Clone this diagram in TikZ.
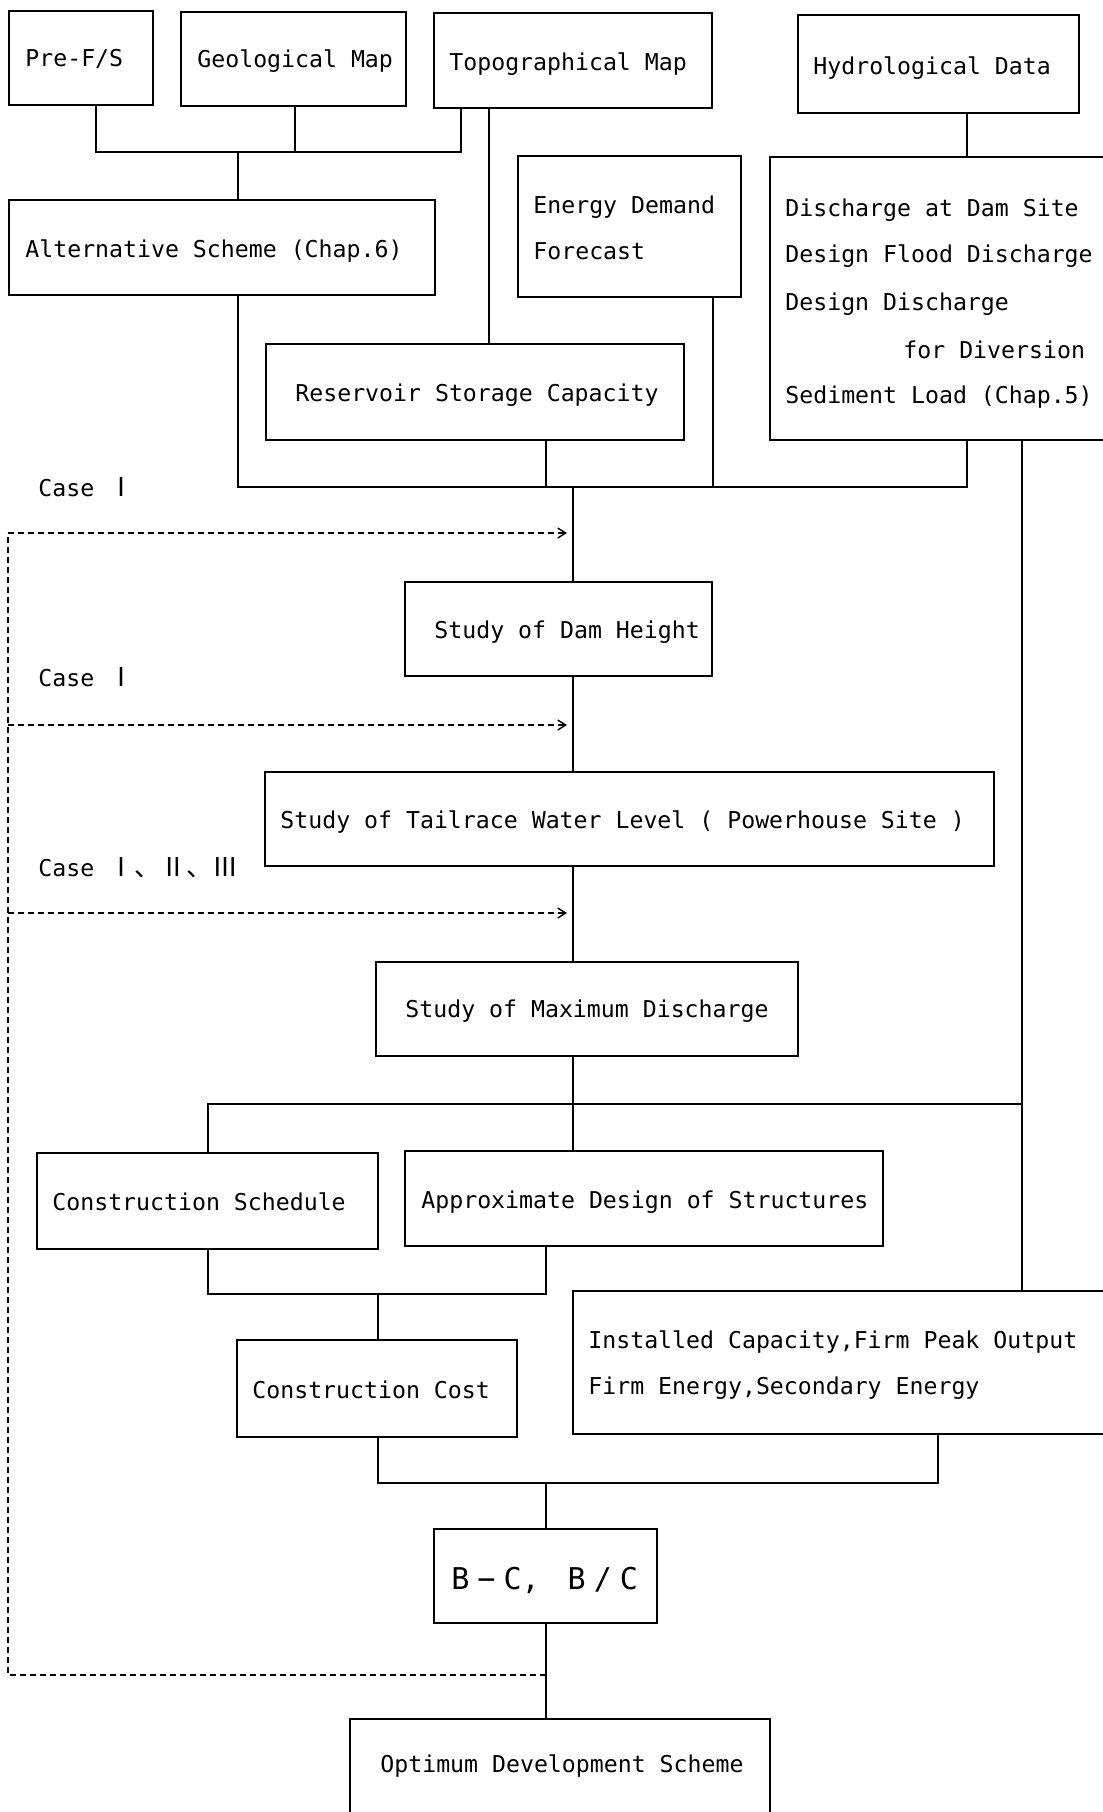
\documentclass[tikz,border=0pt]{standalone}
\usepackage{fontspec}
\setmonofont{DejaVu Sans Mono}
\newfontfamily\cjk{Noto Sans CJK JP}
\usetikzlibrary{arrows.meta,fit}
\begin{document}
\begin{tikzpicture}[x=0.5pt,y=-0.5pt,
  box/.style={draw, line width=0.9pt, inner sep=0pt, rectangle},
  txt/.style={anchor=base west, inner sep=0pt, font=\ttfamily\fontsize{11.6}{14}\selectfont},
  bctxt/.style={anchor=base west, inner sep=0pt, font=\ttfamily\fontsize{15}{18}\selectfont},
  ln/.style={line width=0.9pt},
  fb/.style={line width=0.7pt, dash pattern=on 3pt off 2pt},
  fbarrow/.style={fb, -{Straight Barb[length=4pt,width=5pt]}}]
\useasboundingbox (0,0) rectangle (1103,1812);
\clip (0,0) rectangle (1103,1812);
\fill[white] (0,0) rectangle (1103,1812);

% boxes
\node[box, fit={(9,11) (153,105)}] (pre) {};
\node[box, fit={(181,12) (406,106)}] (geo) {};
\node[box, fit={(434,13) (712,108)}] (topo) {};
\node[box, fit={(798,15) (1079,113)}] (hyd) {};
\node[box, fit={(9,200) (435,295)}] (alt) {};
\node[box, fit={(518,156) (741,297)}] (en) {};
\node[box, fit={(770,157) (1130,440)}] (dis) {};
\node[box, fit={(266,344) (684,440)}] (res) {};
\node[box, fit={(405,582) (712,676)}] (dam) {};
\node[box, fit={(265,772) (994,866)}] (tail) {};
\node[box, fit={(376,962) (798,1056)}] (max) {};
\node[box, fit={(37,1153) (378,1249)}] (sch) {};
\node[box, fit={(405,1151) (883,1246)}] (apx) {};
\node[box, fit={(237,1340) (517,1437)}] (cost) {};
\node[box, fit={(573,1291) (1130,1434)}] (ins) {};
\node[box, fit={(434,1529) (657,1623)}] (bc) {};
\node[box, fit={(350,1719) (770,1850)}] (opt) {};

% texts
\node[txt] (tpre) at (25,66) {Pre-F/S};
\node[txt] (tgeo) at (197,67) {Geological Map};
\node[txt] (ttopo) at (449,70) {Topographical Map};
\node[txt] (thyd) at (813,74) {Hydrological Data};
\node[txt] (talt) at (25,257) {Alternative Scheme (Chap.6)};
\node[txt] (ten1) at (533,213) {Energy Demand};
\node[txt] (ten2) at (533,259) {Forecast};
\node[txt] (tdis1) at (785,216) {Discharge at Dam Site};
\node[txt] (tdis2) at (785,262) {Design Flood Discharge};
\node[txt] (tdis3) at (785,310) {Design Discharge};
\node[txt] (tdis4) at (903,358) {for Diversion};
\node[txt] (tdis5) at (785,403) {Sediment Load (Chap.5)};
\node[txt] (tres) at (295,401) {Reservoir Storage Capacity};
\node[txt] (tdam) at (434,638) {Study of Dam Height};
\node[txt] (ttail) at (280,828) {Study of Tailrace Water Level ( Powerhouse Site )};
\node[txt] (tmax) at (405,1017) {Study of Maximum Discharge};
\node[txt] (tsch) at (52,1210) {Construction Schedule};
\node[txt] (tapx) at (421,1208) {Approximate Design of Structures};
\node[txt] (tcost) at (252,1398) {Construction Cost};
\node[txt] (tins1) at (588,1348) {Installed Capacity,Firm Peak Output};
\node[txt] (tins2) at (588,1394) {Firm Energy,Secondary Energy};
\node[bctxt] (tbc) at (451,1589) {B\kern4pt−\kern4pt C,\kern5pt\ B\kern4pt/\kern4pt C};
\node[txt] (topt) at (380,1772) {Optimum Development Scheme};
\node[txt] (case1) at (38,496) {Case {\cjk\fontsize{13}{14}\selectfont Ⅰ}};
\node[txt] (case2) at (38,686) {Case {\cjk\fontsize{13}{14}\selectfont Ⅰ}};
\node[txt] (case3) at (38,876) {Case {\cjk\fontsize{13}{14}\selectfont Ⅰ、Ⅱ、Ⅲ}};

% junction coordinates
\coordinate (j1a) at (96,152);
\coordinate (j1g) at (295,152);
\coordinate (j1t) at (461,152);
\coordinate (j1d) at (238,152);
\coordinate (tv) at (489,200);
\coordinate (hv) at (967,135);
\coordinate (j2a) at (238,487);
\coordinate (j2r) at (546,487);
\coordinate (j2e) at (713,487);
\coordinate (j2d) at (967,487);
\coordinate (j2m) at (573,487);
\coordinate (qv) at (1022,1104);
\coordinate (b1) at (208,1104);
\coordinate (j3s) at (208,1294);
\coordinate (j3a) at (546,1294);
\coordinate (j3c) at (378,1294);
\coordinate (j4c) at (378,1483);
\coordinate (j4i) at (938,1483);
\coordinate (j4m) at (546,1483);
\coordinate (f0) at (546,1675);
\coordinate (fl) at (8,1675);
\coordinate (f1) at (8,533);
\coordinate (f2) at (8,725);
\coordinate (f3) at (8,913);
\coordinate (a1) at (567,533);
\coordinate (a2) at (567,725);
\coordinate (a3) at (567,913);

% connectors
\draw[ln] (pre.south -| j1a) -- (j1a) -- (j1t) -- (topo.south -| j1t);
\draw[ln] (geo.south -| j1g) -- (j1g);
\draw[ln] (j1d) -- (alt.north -| j1d);
\draw[ln] (topo.south -| tv) -- (res.north -| tv);
\draw[ln] (hyd.south -| hv) -- (dis.north -| hv);
\draw[ln] (alt.south -| j2a) -- (j2a) -- (j2d) -- (dis.south -| j2d);
\draw[ln] (res.south -| j2r) -- (j2r);
\draw[ln] (en.south -| j2e) -- (j2e);
\draw[ln] (j2m) -- (dam.north -| j2m);
\draw[ln] (dam.south -| j2m) -- (tail.north -| j2m);
\draw[ln] (tail.south -| j2m) -- (max.north -| j2m);
\draw[ln] (max.south -| j2m) -- (apx.north -| j2m);
\draw[ln] (dis.south -| qv) -- (ins.north -| qv);
\draw[ln] (sch.north -| b1) -- (b1) -- (qv);
\draw[ln] (sch.south -| j3s) -- (j3s) -- (j3a) -- (apx.south -| j3a);
\draw[ln] (j3c) -- (cost.north -| j3c);
\draw[ln] (cost.south -| j4c) -- (j4c) -- (j4i) -- (ins.south -| j4i);
\draw[ln] (j4m) -- (bc.north -| j4m);
\draw[ln] (bc.south -| j4m) -- (opt.north -| j4m);

% feedback dashed loop
\draw[fb] (f0) -- (fl) -- (f1);
\draw[fbarrow] (f1) -- (a1);
\draw[fbarrow] (f2) -- (a2);
\draw[fbarrow] (f3) -- (a3);
\end{tikzpicture}
\end{document}
